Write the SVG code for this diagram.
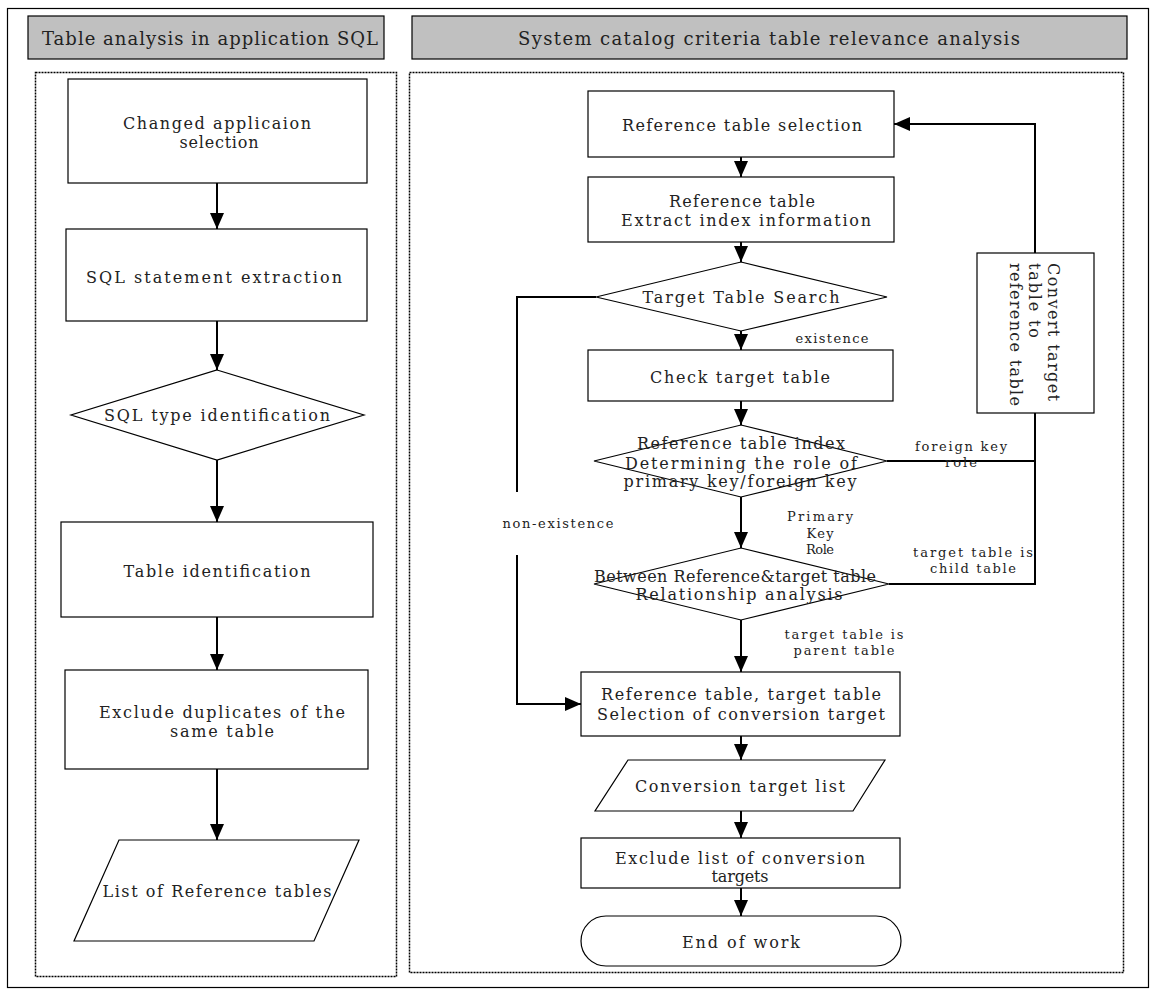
<svg xmlns="http://www.w3.org/2000/svg" width="1160" height="996" viewBox="0 0 1160 996">
<style>
text{font-family:"DejaVu Serif","Liberation Serif",serif;fill:#222;font-size:16px;text-anchor:middle;dominant-baseline:central}
.hd{font-size:18px}
.sm{font-size:13px}
.vt{text-anchor:start}
.box{fill:#fff;stroke:#000;stroke-width:1.2}
.hdr{fill:#c0c0c0;stroke:#000;stroke-width:1.2}
.dot{fill:none;stroke:#000;stroke-width:1.5;stroke-dasharray:2 1}
.ln{fill:none;stroke:#000;stroke-width:2}
.ar{fill:none;stroke:#000;stroke-width:2;marker-end:url(#ah)}
</style>
<defs>
<marker id="ah" markerUnits="userSpaceOnUse" viewBox="0 0 16 14" refX="16" refY="7" markerWidth="16" markerHeight="14" orient="auto">
<path d="M0,0 L16,7 L0,14 z" fill="#000"/>
</marker>
</defs>
<rect width="1160" height="996" fill="#fff"/>
<rect x="7.5" y="8.5" width="1141" height="979" fill="none" stroke="#000" stroke-width="1.2"/>
<g id="header-left"><rect class="hdr" x="28" y="16" width="356" height="43"/><text class="hd" x="210" y="38" textLength="336" lengthAdjust="spacing">Table analysis in application SQL</text></g>
<g id="header-right"><rect class="hdr" x="412" y="16" width="715" height="43"/><text class="hd" x="769" y="38" textLength="502" lengthAdjust="spacing">System catalog criteria table relevance analysis</text></g>
<rect class="dot" x="35.5" y="72.5" width="361" height="904"/>
<rect class="dot" x="409.5" y="72.5" width="714" height="900"/>

<g id="connectors">
<line class="ar" x1="217" y1="183" x2="217" y2="229"/>
<line class="ar" x1="217" y1="321" x2="217" y2="370"/>
<line class="ar" x1="217" y1="460" x2="217" y2="522"/>
<line class="ar" x1="217" y1="617" x2="217" y2="670"/>
<line class="ar" x1="217" y1="769" x2="217" y2="840"/>
<line class="ar" x1="741" y1="157" x2="741" y2="177"/>
<line class="ar" x1="741" y1="242" x2="741" y2="262"/>
<line class="ar" x1="741" y1="331" x2="741" y2="350"/>
<line class="ar" x1="741" y1="401" x2="741" y2="425"/>
<line class="ar" x1="741" y1="497" x2="741" y2="548"/>
<line class="ar" x1="741" y1="620" x2="741" y2="672"/>
<line class="ar" x1="741" y1="736" x2="741" y2="760"/>
<line class="ar" x1="741" y1="811" x2="741" y2="838"/>
<line class="ar" x1="741" y1="888" x2="741" y2="916"/>
<polyline class="ln" points="596,297 517,297 517,492"/>
<polyline class="ar" points="517,555 517,704 581,704"/>
<polyline class="ln" points="887,461 1035,461"/>
<polyline class="ln" points="889,584 1035,584 1035,413"/>
<polyline class="ar" points="1035,253 1035,124 894,124"/>
<text class="sm" x="832" y="338" textLength="73" lengthAdjust="spacing">existence</text>
<text class="sm" x="558" y="523" textLength="111" lengthAdjust="spacing">non-existence</text>
<text class="sm" x="961" y="446" textLength="92" lengthAdjust="spacing">foreign key</text>
<text class="sm" x="961" y="462" textLength="32" lengthAdjust="spacing">role</text>
<text class="sm" x="820" y="516" textLength="66" lengthAdjust="spacing">Primary</text>
<text class="sm" x="820" y="533" textLength="27" lengthAdjust="spacing">Key</text>
<text class="sm" x="820" y="549" textLength="28" lengthAdjust="spacing">Role</text>
<text class="sm" x="973" y="552" textLength="120" lengthAdjust="spacing">target table is</text>
<text class="sm" x="973" y="568" textLength="86" lengthAdjust="spacing">child table</text>
<text class="sm" x="844" y="634" textLength="119" lengthAdjust="spacing">target table is</text>
<text class="sm" x="844" y="650" textLength="101" lengthAdjust="spacing">parent table</text>
</g>

<g id="n1"><rect class="box" x="68" y="79" width="299" height="104"/><text x="217" y="123" textLength="188" lengthAdjust="spacing">Changed applicaion</text><text x="219" y="142" textLength="79" lengthAdjust="spacing">selection</text></g>
<g id="n2"><rect class="box" x="66" y="229" width="301" height="92"/><text x="214" y="277" textLength="256" lengthAdjust="spacing">SQL statement extraction</text></g>
<g id="n3"><polygon class="box" points="217,370 364,415 217,460 71,415"/><text x="217" y="415" textLength="226" lengthAdjust="spacing">SQL type identification</text></g>
<g id="n4"><rect class="box" x="61" y="522" width="312" height="95"/><text x="217" y="571" textLength="187" lengthAdjust="spacing">Table identification</text></g>
<g id="n5"><rect class="box" x="65" y="670" width="303" height="99"/><text x="222" y="712" textLength="246" lengthAdjust="spacing">Exclude duplicates of the</text><text x="222" y="731" textLength="104" lengthAdjust="spacing">same table</text></g>
<g id="n6"><polygon class="box" points="119,840 359,840 314,941 74,941"/><text x="217" y="891" textLength="229" lengthAdjust="spacing">List of Reference tables</text></g>

<g id="r1"><rect class="box" x="588" y="91" width="306" height="66"/><text x="742" y="125" textLength="240" lengthAdjust="spacing">Reference table selection</text></g>
<g id="r2"><rect class="box" x="588" y="177" width="306" height="65"/><text x="742" y="201" textLength="146" lengthAdjust="spacing">Reference table</text><text x="746" y="220" textLength="250" lengthAdjust="spacing">Extract index information</text></g>
<g id="r3"><polygon class="box" points="741,262 887,297 741,331 596,297"/><text x="741" y="297" textLength="197" lengthAdjust="spacing">Target Table Search</text></g>
<g id="r4"><rect class="box" x="588" y="350" width="305" height="51"/><text x="740" y="377" textLength="180" lengthAdjust="spacing">Check target table</text></g>
<g id="r5"><polygon class="box" points="741,425 887,461 741,497 594,461"/><text x="741" y="443" textLength="208" lengthAdjust="spacing">Reference table index</text><text x="741" y="463" textLength="232" lengthAdjust="spacing">Determining the role of</text><text x="740" y="481" textLength="233" lengthAdjust="spacing">primary key/foreign key</text></g>
<g id="r6"><polygon class="box" points="741,548 889,584 741,620 594,584"/><text x="735" y="576" textLength="282" lengthAdjust="spacing">Between Reference&amp;target table</text><text x="739" y="594" textLength="207" lengthAdjust="spacing">Relationship analysis</text></g>
<g id="r7"><rect class="box" x="581" y="672" width="319" height="64"/><text x="741" y="694" textLength="280" lengthAdjust="spacing">Reference table, target table</text><text x="741" y="714" textLength="288" lengthAdjust="spacing">Selection of conversion target</text></g>
<g id="r8"><polygon class="box" points="628,760 885,760 853,811 595,811"/><text x="740" y="786" textLength="210" lengthAdjust="spacing">Conversion target list</text></g>
<g id="r9"><rect class="box" x="581" y="838" width="319" height="50"/><text x="740" y="858" textLength="250" lengthAdjust="spacing">Exclude list of conversion</text><text x="740" y="876" textLength="57" lengthAdjust="spacing">targets</text></g>
<g id="r10"><rect class="box" x="581" y="916" width="320" height="50" rx="25" ry="25"/><text x="741" y="942" textLength="118" lengthAdjust="spacing">End of work</text></g>
<g id="r11"><rect class="box" x="977" y="253" width="117" height="160"/>
<text class="vt" transform="translate(1053,263) rotate(90)" x="0" y="0" textLength="138" lengthAdjust="spacing">Convert target</text>
<text class="vt" transform="translate(1034,263) rotate(90)" x="0" y="0" textLength="75" lengthAdjust="spacing">table to</text>
<text class="vt" transform="translate(1015,263) rotate(90)" x="0" y="0" textLength="143" lengthAdjust="spacing">reference table</text>
</g>
</svg>
